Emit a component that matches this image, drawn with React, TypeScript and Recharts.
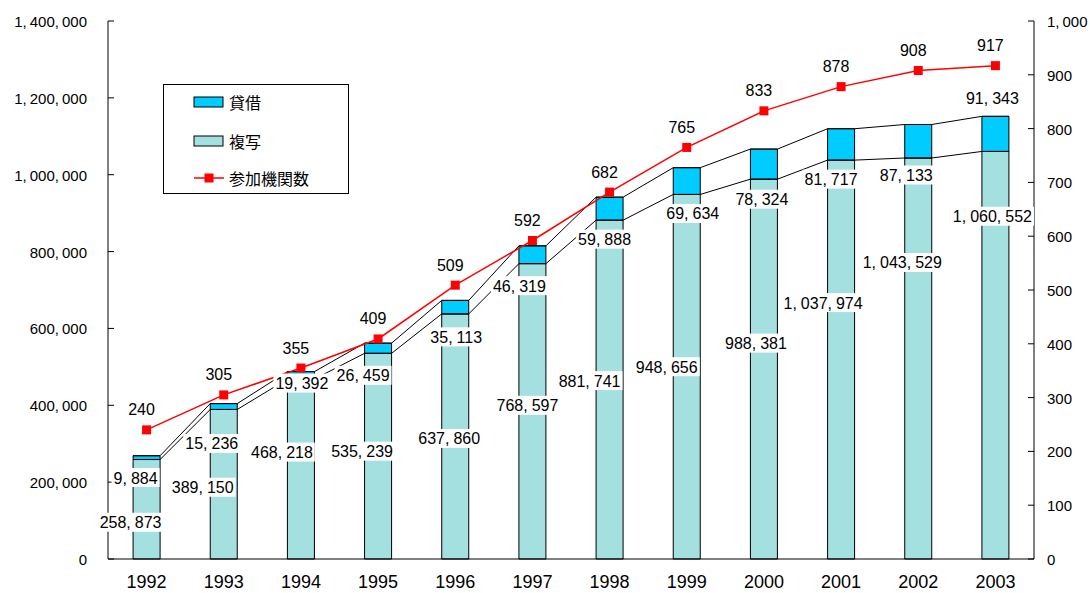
import React from "react";
import {
  ComposedChart,
  Bar,
  Line,
  XAxis,
  YAxis,
  LabelList,
  Legend,
} from "recharts";

const years = ["1992", "1993", "1994", "1995", "1996", "1997", "1998", "1999", "2000", "2001", "2002", "2003"];
const copyCounts = [258873, 389150, 468218, 535239, 637860, 768597, 881741, 948656, 988381, 1037974, 1043529, 1060552];
const loanCounts = [9884, 15236, 19392, 26459, 35113, 46319, 59888, 69634, 78324, 81717, 87133, 91343];
const memberCounts = [240, 305, 355, 409, 509, 592, 682, 765, 833, 878, 908, 917];

const leftTicks = [0, 200000, 400000, 600000, 800000, 1000000, 1200000, 1400000];
const rightTicks = [0, 100, 200, 300, 400, 500, 600, 700, 800, 900, 1000];
const bandEdges = [0, 1, 2, 3, 4, 5, 6, 7, 8, 9, 10, 11, 12];

// hand placed labels in the original, nudged in px from the default spot
const copyLabelShift = [
  [-16, 13], [-21, 3], [-19, -17], [-16, -5], [-6, 2], [-5, -6],
  [-20, -9], [-20, -10], [-8, -26], [-18, -57], [-16, -96], [-3, -139],
];
const loanLabelShift = [
  [-11, 18], [-12, 34], [1, 4], [-15, 22], [1, 23], [-13, 22],
  [-5, 19], [6, 19], [-2, 20], [-10, 19], [-12, 17], [-3, -53],
];

const BAR_FRACTION = 0.35;
const NUM_FONT = "'Liberation Sans', Arial, sans-serif";
const CJK_FONT = "'Noto Sans CJK JP', sans-serif";
const COPY_COLOR = "#A4E0E0";
const LOAN_COLOR = "#00CCFF";
const RED = "#FF0000";

const data = years.map((year, i) => ({
  year,
  copy: copyCounts[i],
  loan: loanCounts[i],
  members: memberCounts[i],
}));

// Excel style series lines: along each bar top, then over to the next bar
const seriesPoints = years.flatMap((_, i) =>
  [-1, 1].map((side) => ({
    pos: i + 0.5 + (side * BAR_FRACTION) / 2,
    copyTop: copyCounts[i],
    totalTop: copyCounts[i] + loanCounts[i],
  }))
);

const fmt = (v: number) => v.toLocaleString("en-US");

const textWidth = (text: string, size: number, gap: number) =>
  text.split("").reduce((w, c) => w + (c === "," ? 0.278 * size + gap : 0.556 * size), 0);

function NumText({ x, y, text, size, anchor, gap }: any) {
  const parts = text.split(",");
  return (
    <text
      x={x}
      y={y}
      fontSize={size}
      fontFamily={NUM_FONT}
      textAnchor={anchor}
      dominantBaseline="central"
      fill="#000"
    >
      {parts.map((p: string, i: number) => (
        <tspan key={i} dx={i > 0 ? gap : 0}>
          {p + (i < parts.length - 1 ? "," : "")}
        </tspan>
      ))}
    </text>
  );
}

function BoxedNumber({ cx, cy, value }: { cx: number; cy: number; value: number }) {
  const text = fmt(value);
  const w = textWidth(text, 16, 4) + 4;
  return (
    <g>
      <rect x={cx - w / 2} y={cy - 9.5} width={w} height={19} fill="#fff" />
      <NumText x={cx} y={cy} text={text} size={16} anchor="middle" gap={4} />
    </g>
  );
}

const boxOf = (props: any) => props.viewBox ?? props;

const copyLabel = (props: any) => {
  const { x, y, width, height } = boxOf(props);
  const i = props.index;
  const [dx, dy] = copyLabelShift[i];
  return <BoxedNumber key={i} cx={x + width / 2 + dx} cy={y + height / 2 + dy} value={copyCounts[i]} />;
};

const loanLabel = (props: any) => {
  const { x, y, width, height } = boxOf(props);
  const i = props.index;
  const [dx, dy] = loanLabelShift[i];
  return <BoxedNumber key={i} cx={x + width / 2 + dx} cy={y + height + dy} value={loanCounts[i]} />;
};

const memberLabel = (props: any) => {
  const { x, y } = boxOf(props);
  const i = props.index;
  return (
    <text
      key={i}
      x={x - 5}
      y={y - 20}
      fontSize={16}
      fontFamily={NUM_FONT}
      textAnchor="middle"
      dominantBaseline="central"
      fill="#000"
    >
      {memberCounts[i]}
    </text>
  );
};

const squareDot = (props: any) => (
  <rect key={props.index} x={props.cx - 4.5} y={props.cy - 4.5} width={9} height={9} fill={RED} />
);

const LeftTick = (props: any) => (
  <NumText x={props.x} y={props.y} text={fmt(props.payload.value)} size={15} anchor="end" gap={3} />
);
const RightTick = (props: any) => (
  <NumText x={props.x} y={props.y} text={fmt(props.payload.value)} size={15} anchor="start" gap={3} />
);

const legendRows = [
  { name: "貸借", kind: "box", color: LOAN_COLOR, top: 17 },
  { name: "複写", kind: "box", color: COPY_COLOR, top: 56 },
  { name: "参加機関数", kind: "line", color: RED, top: 93 },
];

const renderLegend = () => (
  <div
    style={{
      position: "relative",
      width: 186,
      height: 110,
      border: "1px solid #000",
      boxSizing: "border-box",
      background: "#fff",
      fontFamily: CJK_FONT,
      fontSize: 16,
      color: "#000",
    }}
  >
    {legendRows.map((r) => (
      <div key={r.name}>
        <svg
          width={32}
          height={12}
          style={{ position: "absolute", left: 29, top: r.top - 6 }}
        >
          {r.kind === "box" ? (
            <rect x={1} y={1} width={29} height={10} fill={r.color} stroke="#000" strokeWidth={1} />
          ) : (
            <g>
              <line x1={1} y1={6} x2={31} y2={6} stroke={r.color} strokeWidth={1.5} />
              <rect x={11.5} y={1.5} width={9} height={9} fill={r.color} />
            </g>
          )}
        </svg>
        <span
          style={{
            position: "absolute",
            left: 65,
            top: r.top - 12,
            lineHeight: "24px",
            whiteSpace: "nowrap",
          }}
        >
          {r.name}
        </span>
      </div>
    ))}
  </div>
);

export default function App() {
  return (
    <div style={{ position: "absolute", left: 0, top: 0, background: "#fff" }}>
      <ComposedChart
        width={1090}
        height={593}
        data={data}
        margin={{ top: 21, right: 0, bottom: 0, left: 0 }}
        barCategoryGap={`${((1 - BAR_FRACTION) / 2) * 100}%`}
      >
        <XAxis
          xAxisId="num"
          type="number"
          dataKey="pos"
          domain={[0, 12]}
          ticks={bandEdges}
          height={0}
          axisLine={false}
          tick={false}
          tickSize={-6}
          tickLine={{ stroke: "#000" }}
          allowDataOverflow
        />
        <XAxis
          xAxisId="cat"
          dataKey="year"
          height={34}
          tickSize={0}
          tickMargin={16}
          tickLine={false}
          axisLine={{ stroke: "#000" }}
          tick={{ fontSize: 18, fill: "#000", fontFamily: NUM_FONT }}
        />
        <YAxis
          yAxisId="left"
          width={108}
          domain={[0, 1400000]}
          ticks={leftTicks}
          interval={0}
          tickSize={-6}
          tickMargin={27}
          axisLine={{ stroke: "#000" }}
          tickLine={{ stroke: "#000" }}
          tick={<LeftTick />}
        />
        <YAxis
          yAxisId="right"
          orientation="right"
          width={56}
          domain={[0, 1000]}
          ticks={rightTicks}
          interval={0}
          tickSize={-6}
          tickMargin={19}
          axisLine={{ stroke: "#000" }}
          tickLine={{ stroke: "#000" }}
          tick={<RightTick />}
        />
        <Line
          xAxisId="num"
          yAxisId="left"
          data={seriesPoints}
          dataKey="copyTop"
          type="linear"
          stroke="#000"
          strokeWidth={1}
          dot={false}
          activeDot={false}
          legendType="none"
          isAnimationActive={false}
        />
        <Line
          xAxisId="num"
          yAxisId="left"
          data={seriesPoints}
          dataKey="totalTop"
          type="linear"
          stroke="#000"
          strokeWidth={1}
          dot={false}
          activeDot={false}
          legendType="none"
          isAnimationActive={false}
        />
        <Bar
          xAxisId="cat"
          yAxisId="left"
          dataKey="copy"
          name="複写"
          stackId="s"
          fill={COPY_COLOR}
          stroke="#000"
          strokeWidth={1}
          isAnimationActive={false}
        >
          <LabelList content={copyLabel} />
        </Bar>
        <Bar
          xAxisId="cat"
          yAxisId="left"
          dataKey="loan"
          name="貸借"
          stackId="s"
          fill={LOAN_COLOR}
          stroke="#000"
          strokeWidth={1}
          isAnimationActive={false}
        >
          <LabelList content={loanLabel} />
        </Bar>
        <Line
          xAxisId="cat"
          yAxisId="right"
          dataKey="members"
          name="参加機関数"
          type="linear"
          stroke={RED}
          strokeWidth={1.5}
          dot={squareDot}
          activeDot={false}
          isAnimationActive={false}
        >
          <LabelList content={memberLabel} />
        </Line>
        <Legend
          layout="vertical"
          align="center"
          verticalAlign="middle"
          content={renderLegend}
          wrapperStyle={{ left: 163, top: 84, width: 186, height: 110 }}
        />
      </ComposedChart>
    </div>
  );
}
